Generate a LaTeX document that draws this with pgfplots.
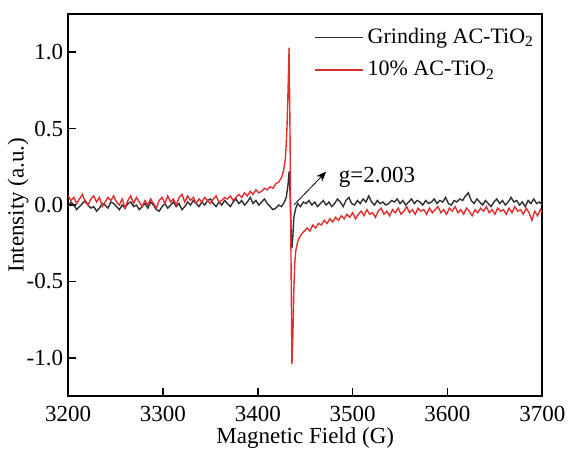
\documentclass[border=0pt]{standalone}
\usepackage{fontspec}
\setmainfont{Liberation Serif}
\usepackage{pgfplots}
\pgfplotsset{compat=1.18}
\usetikzlibrary{arrows.meta}
\definecolor{eprred}{RGB}{222,48,48}
\definecolor{eprblack}{RGB}{48,48,48}

\begin{document}
\fontsize{11.5}{13.8}\selectfont
\begin{tikzpicture}
\begin{axis}[
  scale only axis, width=237pt, height=191pt,
  xmin=3200, xmax=3700, ymin=-1.25, ymax=1.25,
  xtick={3200,3300,...,3700}, ytick={-1,-0.5,0,0.5,1},
  /pgf/number format/assume math mode=true,
  xticklabel style={/pgf/number format/1000 sep={}, yshift=-1pt},
  yticklabel style={/pgf/number format/.cd, fixed, fixed zerofill, precision=1,
    /tikz/.cd, xshift=1.5pt},
  tick align=inside, xtick pos=bottom, ytick pos=left,
  major tick length=4pt, minor tick num=0,
  axis line style={line width=0.9pt},
  tick style={line width=0.8pt, black},
  xlabel={Magnetic Field (G)}, ylabel={Intensity (a.u.)},
  xlabel style={at={([yshift=-21pt]axis description cs:0.5,0)}, anchor=center},
  ylabel style={at={([xshift=-25pt]axis description cs:0,0.5)}, anchor=center},
  legend style={draw=none, fill=none, at={(1,1)}, anchor=north east,
    yshift=-3pt, row sep=3pt, inner sep=2pt, font=\fontsize{11}{13}\selectfont},
  legend cell align=left,
  legend image code/.code={\draw[#1] (0pt,0pt) -- (24pt,0pt);},
]
% Grinding AC-TiO2
\addplot[eprblack, line width=0.7pt] coordinates {
(3200,-0.01) (3203,0.02) (3206,0.00) (3209,-0.03) (3212,-0.01) (3215,0.01)
(3218,0.03) (3221,0.00) (3224,-0.02) (3227,-0.01) (3230,-0.04) (3233,-0.02)
(3236,0.01) (3239,0.00) (3242,-0.02) (3245,0.02) (3248,0.01) (3251,-0.01)
(3254,-0.03) (3257,0.00) (3260,-0.02) (3263,0.01) (3266,0.02) (3269,-0.01)
(3272,0.00) (3275,-0.03) (3278,-0.01) (3281,0.01) (3284,-0.02) (3287,0.02)
(3290,0.00) (3293,-0.03) (3296,-0.04) (3299,-0.01) (3302,0.01) (3305,-0.02)
(3308,0.00) (3311,0.02) (3314,-0.01) (3317,0.01) (3320,-0.03) (3323,-0.01)
(3326,0.02) (3329,0.00) (3332,0.03) (3335,0.01) (3338,-0.01) (3341,0.02)
(3344,0.00) (3347,0.03) (3350,0.04) (3353,0.01) (3356,-0.01) (3359,0.02)
(3362,0.00) (3365,0.03) (3368,0.01) (3371,-0.01) (3374,0.02) (3377,0.04)
(3380,0.01) (3383,0.03) (3386,0.00) (3389,0.02) (3392,0.05) (3395,0.01)
(3398,0.03) (3401,0.00) (3404,0.02) (3407,0.04) (3410,0.01) (3413,-0.01)
(3416,-0.03) (3419,-0.02) (3422,0.00) (3425,-0.01) (3428,0.02) (3430,0.05)
(3432,0.14) (3433,0.22) (3434,0.08) (3435,-0.15) (3436,-0.28) (3437,-0.20)
(3438,-0.08) (3440,-0.02) (3442,0.01) (3445,-0.01) (3448,0.02) (3451,0.01)
(3454,0.03) (3457,0.00) (3460,0.02) (3463,-0.01) (3466,0.01) (3469,0.03)
(3472,0.00) (3475,0.02) (3478,-0.01) (3481,0.01) (3484,0.04) (3487,0.02)
(3490,-0.01) (3493,0.03) (3496,0.05) (3499,0.01) (3502,0.00) (3505,0.03)
(3508,0.01) (3511,0.04) (3514,0.02) (3517,0.06) (3520,0.02) (3523,0.00)
(3526,0.03) (3529,0.01) (3532,0.02) (3535,0.00) (3538,0.01) (3541,0.03)
(3544,0.02) (3547,0.04) (3550,0.01) (3553,0.03) (3556,0.00) (3559,0.02)
(3562,0.04) (3565,0.01) (3568,0.03) (3571,0.02) (3574,0.00) (3577,0.03)
(3580,0.01) (3583,0.02) (3586,0.04) (3589,0.01) (3592,0.03) (3595,0.02)
(3598,0.05) (3601,0.01) (3604,0.00) (3607,0.03) (3610,0.02) (3613,0.04)
(3616,0.03) (3619,0.06) (3622,0.08) (3625,0.03) (3628,0.01) (3631,0.04)
(3634,0.02) (3637,0.00) (3640,0.03) (3643,0.01) (3646,-0.01) (3649,0.02)
(3652,0.04) (3655,0.01) (3658,0.03) (3661,0.00) (3664,0.02) (3667,0.05)
(3670,0.02) (3673,0.03) (3676,0.00) (3679,0.02) (3682,-0.01) (3685,0.03)
(3688,0.01) (3691,0.04) (3694,0.01) (3697,0.02) (3700,0.00)
};
% 10% AC-TiO2
\addplot[eprred, line width=0.7pt] coordinates {
(3200,0.06) (3203,0.03) (3206,0.05) (3209,0.01) (3212,0.04) (3215,0.07)
(3218,0.02) (3221,0.00) (3224,0.04) (3227,0.06) (3230,0.02) (3233,0.05)
(3236,-0.01) (3239,0.02) (3242,0.05) (3245,0.03) (3248,0.06) (3251,0.02)
(3254,0.00) (3257,0.04) (3260,-0.02) (3263,0.03) (3266,0.06) (3269,0.01)
(3272,0.05) (3275,0.02) (3278,-0.01) (3281,0.03) (3284,0.00) (3287,0.04)
(3290,0.01) (3293,-0.02) (3296,0.03) (3299,0.05) (3302,0.01) (3305,0.06)
(3308,0.02) (3311,0.04) (3314,0.00) (3317,0.05) (3320,0.07) (3323,0.02)
(3326,0.06) (3329,0.03) (3332,0.05) (3335,0.01) (3338,0.04) (3341,0.02)
(3344,0.05) (3347,0.03) (3350,0.01) (3353,0.04) (3356,0.06) (3359,0.02)
(3362,0.03) (3365,0.05) (3368,0.04) (3371,0.06) (3374,0.03) (3377,0.05)
(3380,0.07) (3383,0.05) (3386,0.08) (3389,0.06) (3392,0.09) (3395,0.07)
(3398,0.10) (3401,0.08) (3404,0.09) (3407,0.11) (3410,0.10) (3413,0.12)
(3416,0.11) (3419,0.14) (3422,0.15) (3425,0.18) (3427,0.22) (3429,0.30)
(3430,0.40) (3431,0.55) (3432,0.78) (3433,1.03) (3434,0.45) (3435,-0.35)
(3436,-1.04) (3437,-0.85) (3438,-0.55) (3439,-0.38) (3440,-0.30) (3442,-0.24)
(3444,-0.21) (3446,-0.19) (3449,-0.17) (3452,-0.15) (3455,-0.17) (3458,-0.13)
(3461,-0.15) (3464,-0.12) (3467,-0.13) (3470,-0.10) (3473,-0.12) (3476,-0.09)
(3479,-0.11) (3482,-0.08) (3485,-0.10) (3488,-0.07) (3491,-0.09) (3494,-0.06)
(3497,-0.08) (3500,-0.05) (3503,-0.09) (3506,-0.06) (3509,-0.04) (3512,-0.07)
(3515,-0.03) (3518,-0.06) (3521,-0.05) (3524,-0.08) (3527,-0.04) (3530,-0.02)
(3533,-0.06) (3536,-0.04) (3539,-0.07) (3542,-0.03) (3545,-0.05) (3548,-0.02)
(3551,-0.06) (3554,-0.04) (3557,-0.01) (3560,-0.05) (3563,-0.03) (3566,-0.06)
(3569,-0.02) (3572,-0.04) (3575,-0.03) (3578,-0.06) (3581,-0.02) (3584,-0.05)
(3587,-0.03) (3590,-0.01) (3593,-0.05) (3596,-0.03) (3599,-0.06) (3602,-0.02)
(3605,-0.04) (3608,-0.01) (3611,-0.05) (3614,-0.03) (3617,-0.06) (3620,-0.02)
(3623,-0.04) (3626,-0.07) (3629,-0.03) (3632,-0.05) (3635,-0.02) (3638,-0.04)
(3641,-0.01) (3644,-0.05) (3647,-0.03) (3650,-0.06) (3653,-0.02) (3656,-0.04)
(3659,-0.03) (3662,-0.06) (3665,-0.02) (3668,-0.05) (3671,-0.01) (3674,-0.04)
(3677,-0.03) (3680,-0.06) (3683,-0.02) (3686,-0.05) (3689,-0.10) (3692,-0.04)
(3695,-0.07) (3698,-0.03) (3700,-0.05)
};
\legend{Grinding AC-TiO\textsubscript{2}, 10\% AC-TiO\textsubscript{2}}
\draw[-{Stealth[length=5pt,width=4pt]}, line width=0.4pt]
  (axis cs:3438,0.0) -- (axis cs:3472,0.218);
\node[anchor=base west, inner sep=0pt] at (axis cs:3485,0.15) {g=2.003};
\end{axis}
\path ([yshift=7pt]current axis.north west);
\end{tikzpicture}
\end{document}
